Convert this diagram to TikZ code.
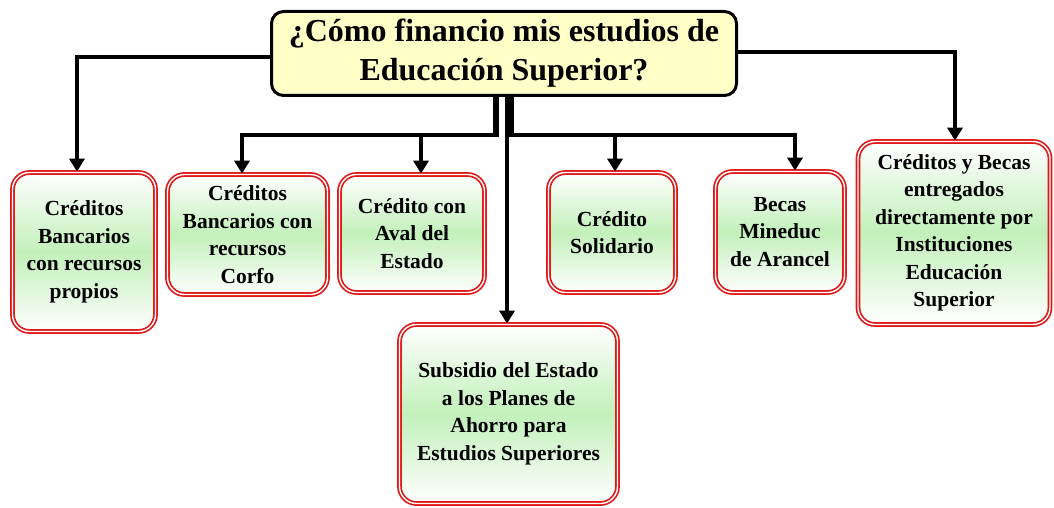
\documentclass[tikz,border=0pt]{standalone}
\usepackage{fontspec}
\setmainfont{Liberation Serif}
\usetikzlibrary{arrows.meta}
\definecolor{lyel}{HTML}{FFFFC8}
\definecolor{lgrn}{HTML}{C2F0BA}
\definecolor{rbrd}{HTML}{E01818}
\tikzset{
  box/.style={draw=rbrd,line width=1.7pt,double=white,double distance=1.4pt,rounded corners=17pt,
    top color=white,bottom color=white,middle color=lgrn,align=center,inner sep=2pt,
    font=\bfseries\fontsize{21.5}{27.5}\selectfont},
  head/.style={draw=black,line width=3pt,rounded corners=12pt,fill=lyel,align=center,
    font=\bfseries\fontsize{32}{39}\selectfont},
  ar/.style={-{Triangle[length=13pt,width=15pt]},line width=4pt},
}
\begin{document}
\begin{tikzpicture}[x=1pt,y=-1pt]
\useasboundingbox (0,0) rectangle (1054,508);
% ---- title ----
\node[head,minimum width=465pt,minimum height=84pt] (q) at (504,53.5)
  {¿Cómo financio mis estudios de\\Educación Superior?};

% ---- boxes ----
\node[box,minimum width=143pt,minimum height=159pt] (b1) at (84,252)
  {Créditos\\Bancarios\\con recursos\\propios};
\node[box,minimum width=160pt,minimum height=120pt] (b2) at (247.5,234.5)
  {Créditos\\Bancarios con\\recursos\\Corfo};
\node[box,minimum width=145pt,minimum height=118pt] (b3) at (412,233.5)
  {Crédito con\\Aval del\\Estado};
\node[box,minimum width=127pt,minimum height=120pt] (b4) at (612,232.5)
  {Crédito\\Solidario};
\node[box,minimum width=129pt,minimum height=121pt] (b5) at (780,232)
  {Becas\\Mineduc\\de Arancel};
\node[box,minimum width=192pt,minimum height=183pt] (b6) at (954,233)
  {Créditos y Becas\\entregados\\directamente por\\Instituciones\\Educación\\Superior};
\node[box,minimum width=218pt,minimum height=179pt] (b7) at (508.5,414)
  {Subsidio del Estado\\a los Planes de\\Ahorro para\\Estudios Superiores};

% ---- connectors ----
\draw[ar] ([yshift=-3.5pt]q.west) -| ([xshift=-7pt]b1.north);
\draw[ar] ([yshift=1.5pt]q.east) -| ([xshift=1pt]b6.north);
\draw[ar] ([xshift=-9pt]q.south) -- ++(0,38) -| ([xshift=-5.5pt]b2.north);
\draw[ar] ([xshift=-7pt]q.south) -- ++(0,38) -| ([xshift=9pt]b3.north);
\draw[ar] ([xshift=6pt]q.south) -- ++(0,38) -| ([xshift=3pt]b4.north);
\draw[ar] ([xshift=8pt]q.south) -- ++(0,38) -| ([xshift=15pt]b5.north);
\draw[ar] ([xshift=3pt]q.south) -- ([xshift=3pt]q.south |- b7.north);
\end{tikzpicture}
\end{document}
